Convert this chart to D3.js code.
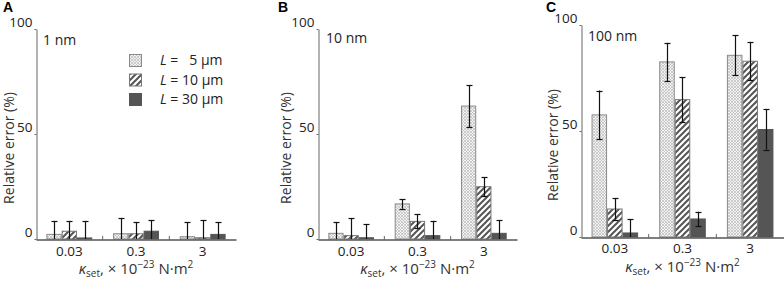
<!DOCTYPE html>
<html><head><meta charset="utf-8">
<script src="https://cdn.jsdelivr.net/npm/d3@7"></script>
<style>
body{margin:0;background:#fff;}
svg{display:block;font-family:"Open Sans",sans-serif;}
</style></head>
<body><svg id="c" width="784" height="281"></svg>
<script>
const categories = ["0.03", "0.3", "3"];
const seriesNames = ["5", "10", "30"];
const yTicks = [0, 50, 100];
const panelLetters = ["A", "B", "C"];
const panelTitles = ["1 nm", "10 nm", "100 nm"];
// values[panel][category][series]
const valuesA = [[2.2, 3.7, 0.5], [2.5, 2.5, 3.7], [1.1, 0.6, 2.2]];
const errorsA = [[6.4, 4.9, 8.1], [7.5, 5.5, 5.2], [6.9, 8.3, 5.8]];
const valuesB = [[2.7, 1.6, 0.6], [16.7, 8.4, 1.6], [63.3, 24.9, 2.7]];
const errorsB = [[5.3, 8.2, 6.4], [2.3, 3.4, 7.0], [10.0, 4.4, 6.2]];
const valuesC = [[57.6, 13.2, 1.9], [82.6, 64.8, 8.5], [85.7, 82.9, 50.7]];
const errorsC = [[11.5, 5.0, 6.4], [9.0, 10.5, 3.4], [9.5, 9.0, 9.5]];

const svg = d3.select("#c");
const defs = svg.append("defs");
const p1 = defs.append("pattern").attr("id","pat0").attr("patternUnits","userSpaceOnUse").attr("width",3).attr("height",3);
p1.append("rect").attr("width",3).attr("height",3).attr("fill","#f2f2f2");
p1.append("path").attr("d","M0,0L3,3M3,0L0,3").attr("stroke","#bcbcbc").attr("stroke-width",0.7);
const p2 = defs.append("pattern").attr("id","pat1").attr("patternUnits","userSpaceOnUse").attr("width",6).attr("height",6);
p2.append("rect").attr("width",6).attr("height",6).attr("fill","#fff");
p2.append("path").attr("d","M-1,7L7,-1M-4,4L4,-4M2,10L10,2").attr("stroke","#555").attr("stroke-width",2);
const fills = ["url(#pat0)", "url(#pat1)", "#555"];
const strokes = ["#8a8a8a", "#777", "#555"];

const panels = [
  {x0:36, x1:236, y0:239, y100:29, vals:valuesA, errs:errorsA, letterX:3, titleX:43, titleY:45, ylabX:14, xtY:255, xtitleY:274, yLabY:148},
  {x0:318, x1:517, y0:239, y100:29, vals:valuesB, errs:errorsB, letterX:278, titleX:326, titleY:43, ylabX:291, xtY:255, xtitleY:274, yLabY:148},
  {x0:581, x1:784, y0:237, y100:25, vals:valuesC, errs:errorsC, letterX:546, titleX:588, titleY:41, ylabX:558, xtY:252, xtitleY:272, yLabY:145}
];

panels.forEach((p, pi) => {
  const g = svg.append("g");
  const x = d3.scaleBand().domain(categories).range([p.x0, p.x1]).paddingInner(0).paddingOuter(0);
  const xs = d3.scaleBand().domain(seriesNames).range([0, x.bandwidth()]).paddingInner(0).paddingOuter(0.68);
  const y = d3.scaleLinear().domain([0, 100]).range([p.y0, p.y100]);

  categories.forEach((c, ci) => {
    seriesNames.forEach((s, si) => {
      const v = p.vals[ci][si], e = p.errs[ci][si];
      const bx = x(c) + xs(s);
      g.append("rect").attr("x", bx + 0.5).attr("y", y(v)).attr("width", xs.bandwidth() - 1)
        .attr("height", Math.max(0, y(0) - y(v))).attr("fill", fills[si])
        .attr("stroke", strokes[si]).attr("stroke-width", 1);
      const cx = Math.round(bx + xs.bandwidth()/2) + 0.5;
      const lo = Math.max(0, v - e), hi = v + e;
      g.append("line").attr("x1",cx).attr("x2",cx).attr("y1",y(lo)).attr("y2",y(hi)).attr("stroke","#111").attr("stroke-width",1.2);
      g.append("line").attr("x1",cx-3).attr("x2",cx+3).attr("y1",Math.round(y(hi))+0.5).attr("y2",Math.round(y(hi))+0.5).attr("stroke","#111").attr("stroke-width",1.2);
      if (v - e > 0) g.append("line").attr("x1",cx-3).attr("x2",cx+3).attr("y1",Math.round(y(lo))+0.5).attr("y2",Math.round(y(lo))+0.5).attr("stroke","#111").attr("stroke-width",1.2);
    });
  });

  const ya = g.append("g").attr("transform", `translate(${p.x0 + 0.5},0)`)
    .call(d3.axisLeft(y).tickValues(yTicks).tickSize(2).tickPadding(2).tickSizeOuter(0));
  ya.select(".domain").attr("stroke","#666");
  ya.selectAll(".tick line").attr("stroke","#666");
  ya.selectAll("text").attr("font-size", 13.5).attr("fill","#222").attr("font-family","Open Sans").attr("dy","-0.2em");

  const xa = g.append("g").attr("transform", `translate(0,${p.y0 + 0.5})`)
    .call(d3.axisBottom(x).tickSize(0).tickSizeOuter(0).tickPadding(0));
  xa.select(".domain").attr("stroke","#555").attr("stroke-width",1.3);
  xa.selectAll("text").attr("font-size", 13.5).attr("fill","#222").attr("font-family","Open Sans")
    .attr("y", p.xtY - p.y0).attr("dy", 0);
  categories.slice(1).forEach(c => {
    g.append("line").attr("x1", x(c)).attr("x2", x(c)).attr("y1", p.y0 - 3).attr("y2", p.y0 + 1).attr("stroke","#666");
  });

  g.append("text").attr("x", p.letterX).attr("y", 12).attr("font-weight","bold").attr("font-size",14)
    .attr("font-family","Liberation Sans, Arial").text(panelLetters[pi]);
  g.append("text").attr("x", p.titleX).attr("y", p.titleY).attr("font-size",14).attr("fill","#222").text(panelTitles[pi]);
  g.append("text").attr("transform", `translate(${p.ylabX},${p.yLabY}) rotate(-90)`).attr("text-anchor","middle")
    .attr("font-size",14).attr("fill","#333").text("Relative error (%)");
  const xt = g.append("text").attr("x", (p.x0 + p.x1)/2).attr("y", p.xtitleY).attr("text-anchor","middle")
    .attr("font-size",15).attr("fill","#333");
  xt.append("tspan").attr("font-style","italic").text("κ");
  xt.append("tspan").attr("font-size",10).attr("dy",2.5).text("set");
  xt.append("tspan").attr("dy",-2.5).text(", × 10");
  xt.append("tspan").attr("font-size",10).attr("dy",-6).text("−23");
  xt.append("tspan").attr("dy",6).text(" N·m");
  xt.append("tspan").attr("font-size",10).attr("dy",-6).text("2");
});

const lg = svg.append("g");
seriesNames.forEach((s, i) => {
  const yy = 54 + i * 19.5;
  lg.append("rect").attr("x", 129.5).attr("y", yy + 0.5).attr("width", 12).attr("height", 12)
    .attr("fill", fills[i]).attr("stroke", strokes[i]);
  const t = lg.append("text").attr("x", 160).attr("y", yy + 11).attr("font-size", 14).attr("fill","#222");
  t.append("tspan").attr("font-style","italic").text("L");
  t.append("tspan").attr("xml:space","preserve").text(s.length === 1 ? " =   " + s + " μm" : " = " + s + " μm");
});
</script></body></html>
